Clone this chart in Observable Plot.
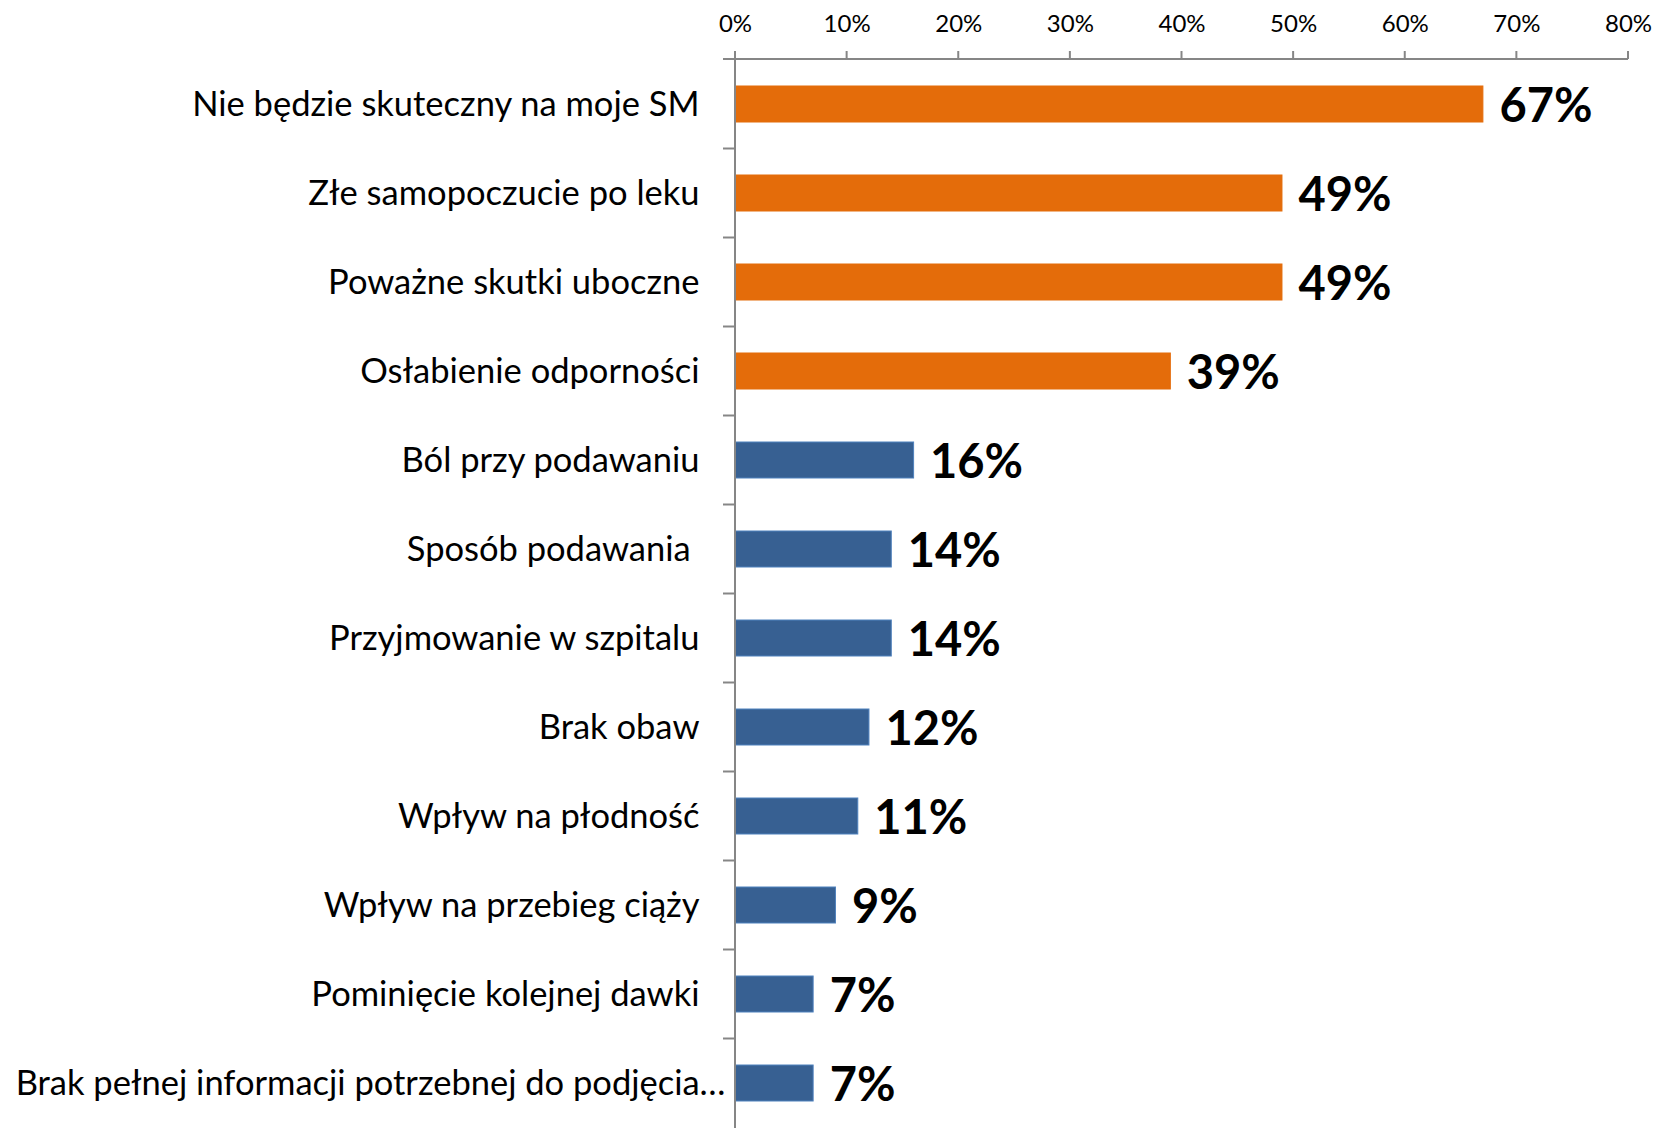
<!DOCTYPE html>
<html>
<head>
<meta charset="utf-8">
<script src="https://cdn.jsdelivr.net/npm/d3@7"></script>
<script src="https://cdn.jsdelivr.net/npm/@observablehq/plot@0.6"></script>
<style>
  html, body { margin: 0; padding: 0; background: #fff; }
  svg { display: block; }
</style>
</head>
<body>
<div id="chart"></div>
<script>
const categories = [
  "Nie będzie skuteczny na moje SM",
  "Złe samopoczucie po leku",
  "Poważne skutki uboczne",
  "Osłabienie odporności",
  "Ból przy podawaniu",
  "Sposób podawania\u00a0",
  "Przyjmowanie w szpitalu",
  "Brak obaw",
  "Wpływ na płodność",
  "Wpływ na przebieg ciąży",
  "Pominięcie kolejnej dawki",
  "Brak pełnej informacji potrzebnej do podjęcia…"
];
const values = [0.67, 0.49, 0.49, 0.39, 0.16, 0.14, 0.14, 0.12, 0.11, 0.09, 0.07, 0.07];
const groups = ["top", "top", "top", "top", "rest", "rest", "rest", "rest", "rest", "rest", "rest", "rest"];
const xTicks = [0, 0.1, 0.2, 0.3, 0.4, 0.5, 0.6, 0.7, 0.8];

const data = categories.map((c, i) => ({category: c, value: values[i], group: groups[i], idx: i}));
const pct = d3.format(".0%");
const axisGray = "#868686";

function axisLines(index, scales, values, dimensions) {
  const x = scales.x, y = scales.y;
  const {marginTop, height, marginBottom} = dimensions;
  const bw = y.bandwidth();
  const step = y.step();
  const x0 = x(0);
  const g = d3.create("svg:g").attr("stroke", axisGray).attr("stroke-width", 2).attr("fill", "none");
  g.append("line").attr("x1", x0 - 12).attr("x2", x(xTicks[xTicks.length - 1])).attr("y1", marginTop).attr("y2", marginTop);
  for (const t of xTicks) {
    g.append("line").attr("x1", x(t)).attr("x2", x(t)).attr("y1", marginTop - 8).attr("y2", marginTop);
  }
  g.append("line").attr("x1", x0).attr("x2", x0).attr("y1", marginTop).attr("y2", height - marginBottom);
  categories.forEach((c, i) => {
    if (i === 0) return;
    const yy = y(c) - (step - bw) / 2;
    g.append("line").attr("x1", x0 - 12).attr("x2", x0).attr("y1", yy).attr("y2", yy);
  });
  return g.node();
}

const chart = Plot.plot({
  width: 1654,
  height: 1128,
  marginTop: 59,
  marginBottom: 0,
  marginLeft: 735,
  marginRight: 26,
  style: {fontFamily: "Lato, 'Open Sans', sans-serif", fontSize: "24px", color: "#000", background: "#fff", overflow: "visible"},
  x: {domain: [0, 0.8], axis: "top", ticks: xTicks, tickFormat: pct, tickSize: 0, tickPadding: 28, label: null},
  y: {domain: categories, axis: null, paddingInner: 0.6, paddingOuter: 0.3},
  color: {domain: ["top", "rest"], range: ["#E46C0A", "#376092"]},
  marks: [
    Plot.barX(data, {y: "category", x: "value", fill: "group", stroke: d => d.group === "top" ? "#E46C0A" : "#4F81BD", strokeWidth: 1}),
    axisLines,
    Plot.text(data.filter(d => d.idx < categories.length - 1), {y: "category", x: d => 0, text: "category", textAnchor: "end", dx: -36, fontSize: 34.5, fill: "#000"}),
    Plot.text(data.filter(d => d.idx === categories.length - 1), {y: "category", x: d => 0, text: "category", textAnchor: "end", dx: -10, fontSize: 34.5, fill: "#000"}),
    Plot.text(data, {y: "category", x: "value", text: d => pct(d.value), textAnchor: "start", dx: 16, dy: 2, fontSize: 47, fontWeight: "bold", fill: "#000"})
  ]
});
document.getElementById("chart").appendChild(chart);
</script>
</body>
</html>
